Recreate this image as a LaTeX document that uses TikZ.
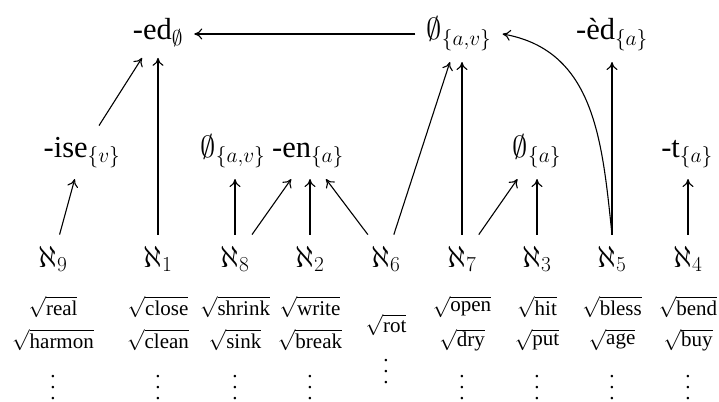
\RequirePackage{fix-cm}
\documentclass[tikz,border=0pt]{standalone}
\usepackage{amsmath}
\usepackage{fontspec}
\setmainfont{Liberation Serif}
\usetikzlibrary{arrows.meta}
\newcommand\vdts{\vbox{\baselineskip=11pt\lineskiplimit=-100pt\hbox{.}\hbox{.}\hbox{.}}}
\begin{document}
\begin{tikzpicture}[x=1pt,y=-1pt,
  lab/.style={anchor=base,inner sep=11pt,font=\fontsize{30.5}{35}\selectfont},
  rootnode/.style={inner sep=0pt,font=\fontsize{21}{25}\selectfont},
  dts/.style={inner sep=0pt,font=\fontsize{21}{25}\selectfont},
  arr/.style={-{To[length=8pt,width=11pt]},line width=1.1pt}]
\useasboundingbox (0,0) rectangle (719,401);
% top row
\node[lab] (ed) at (158,40) {-ed$_{\emptyset}$};
\node[lab] (z1) at (459,40) {$\emptyset_{\{a,v\}}$};
\node[lab] (edg) at (612,40) {-èd$_{\{a\}}$};
% middle row
\node[lab] (ise) at (82,157) {-ise$_{\{v\}}$};
\node[lab] (z2) at (233,157) {$\emptyset_{\{a,v\}}$};
\node[lab] (en) at (308,157) {-en$_{\{a\}}$};
\node[lab] (z3) at (537,157) {$\emptyset_{\{a\}}$};
\node[lab] (t) at (687,157) {-t$_{\{a\}}$};
% alephs
\node[lab] (a9) at (53,267) {$\aleph_9$};
\node[lab] (a1) at (158,267) {$\aleph_1$};
\node[lab] (a8) at (235,267) {$\aleph_8$};
\node[lab] (a2) at (310,267) {$\aleph_2$};
\node[lab] (a6) at (386,267) {$\aleph_6$};
\node[lab] (a7) at (462,267) {$\aleph_7$};
\node[lab] (a3) at (537,267) {$\aleph_3$};
\node[lab] (a5) at (612,267) {$\aleph_5$};
\node[lab] (a4) at (688,267) {$\aleph_4$};
% roots
\foreach \nm/\x/\p/\q in {9/53/real/harmon, 1/158/close/clean, 8/235/shrink/sink,
  2/310/write/break, 7/462/open/dry, 3/537/hit/put, 5/612/bless/age, 4/688/bend/buy}{
  \node[rootnode] (ra\nm) at (\x,307) {$\sqrt{\mbox{\p}}$};
  \node[rootnode] (rb\nm) at (\x,340) {$\sqrt{\mbox{\q}}$};
  \node[dts] (d\nm) at (\x,388) {\vdts};
}
\node[rootnode] (ra6) at (386,325) {$\sqrt{\mbox{rot}}$};
\node[dts] (d6) at (386,372) {\vdts};
% arrows
\draw[arr] (z1.west) -- (z1.west -| ed.east);
\draw[arr] (ise) -- (ed);
\draw[arr] (a1.north) -- (a1.north |- ed.south);
\draw[arr] (a9) -- (ise);
\draw[arr] (a8.north) -- (a8.north |- z2.south);
\draw[arr] (a8) -- (en);
\draw[arr] (a2.north) -- (a2.north |- en.south);
\draw[arr] (a6) -- (en);
\draw[arr] (a6) -- (z1);
\draw[arr] (a7.north) -- (a7.north |- z1.south);
\draw[arr] (a7) -- (z3);
\draw[arr] (a3.north) -- (a3.north |- z3.south);
\draw[arr] (a5.north) to[out=96,in=-10,looseness=1.05] (z1.east);
\draw[arr] (a5.north) -- (a5.north |- edg.south);
\draw[arr] (a4.north) -- (a4.north |- t.south);
\end{tikzpicture}
\end{document}
